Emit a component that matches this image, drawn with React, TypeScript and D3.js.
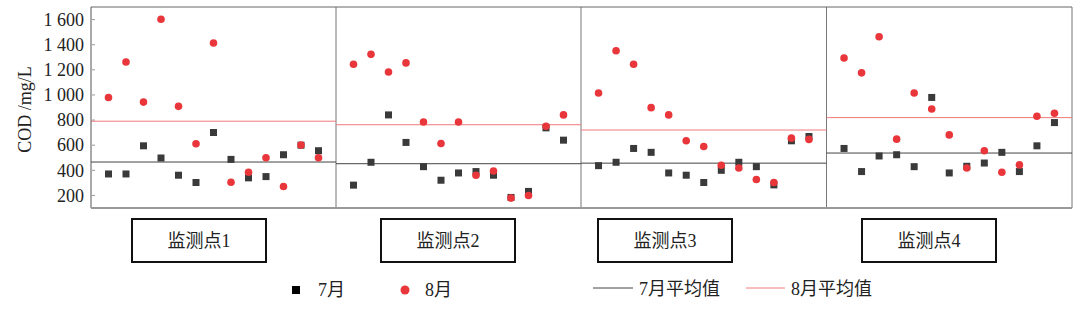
import React from "react";
import * as d3 from "d3";

const sites = ["监测点1", "监测点2", "监测点3", "监测点4"];
const julSite1 = [371, 371, 595, 498, 361, 303, 701, 487, 340, 350, 524, 600, 556];
const augSite1 = [980, 1262, 943, 1603, 909, 611, 1413, 305, 385, 500, 271, 601, 500];
const julSite2 = [282, 464, 841, 622, 429, 321, 379, 390, 361, 184, 232, 738, 640];
const augSite2 = [1244, 1323, 1183, 1255, 785, 614, 785, 361, 395, 179, 200, 751, 841];
const julSite3 = [437, 464, 574, 543, 379, 361, 303, 400, 464, 429, 284, 635, 669];
const augSite3 = [1015, 1352, 1244, 899, 841, 635, 590, 440, 419, 327, 303, 656, 646];
const julSite4 = [574, 390, 514, 524, 429, 980, 379, 432, 458, 543, 390, 595, 780];
const augSite4 = [1294, 1176, 1463, 648, 1015, 888, 682, 419, 556, 385, 443, 830, 854];
const yTicks = [200, 400, 600, 800, 1000, 1200, 1400, 1600];
const yLabel = "COD /mg/L";
const legendLabels = ["7月", "8月", "7月平均值", "8月平均值"];

const julData = [julSite1, julSite2, julSite3, julSite4];
const augData = [augSite1, augSite2, augSite3, augSite4];

const W = 1080;
const H = 310;
const panelEdges = [91, 336, 581, 826.5, 1072];
const plotTop = 7;
const plotBottom = 208;
const boxX = [132, 381, 598, 862];
const boxW = 134;
const boxY = 219;
const boxH = 43;

const BLACK = "#3a3a3a";
const RED = "#e8363b";
const RED_LINE = "#f07a7a";
const FONT = "'Liberation Serif', 'Noto Sans CJK SC', serif";

const fmt = (v: number) => {
  const s = String(v);
  return s.length > 3 ? s.slice(0, s.length - 3) + " " + s.slice(-3) : s;
};

export default function App() {
  const y = d3.scaleLinear().domain([100, 1700]).range([plotBottom, plotTop]);
  const sq = 7;
  return (
    <svg
      width={W}
      height={H}
      style={{ position: "absolute", left: 0, top: 0, background: "#fff" }}
      fontFamily={FONT}
    >
      {/* y label */}
      <text
        transform={`translate(31,${(plotTop + plotBottom) / 2 + 2}) rotate(-90)`}
        textAnchor="middle"
        fontSize={18}
        fill="#222"
      >
        {yLabel}
      </text>
      {/* y ticks */}
      {yTicks.map((t) => (
        <g key={t}>
          <text x={84} y={y(t)} dy="0.35em" textAnchor="end" fontSize={18} fill="#222">
            {fmt(t)}
          </text>
          <line x1={92} x2={95} y1={y(t)} y2={y(t)} stroke="#999" strokeWidth={1} />
        </g>
      ))}
      {sites.map((name, p) => {
        const x0 = panelEdges[p];
        const x1 = panelEdges[p + 1];
        const x = d3.scaleLinear().domain([0, 14]).range([x0, x1]);
        const jul = julData[p];
        const aug = augData[p];
        const mJul = d3.mean(jul) as number;
        const mAug = d3.mean(aug) as number;
        return (
          <g key={name}>
            <line x1={x1} x2={x1} y1={plotTop} y2={plotBottom} stroke="#777" strokeWidth={1} />
            <line x1={x0} x2={x1} y1={y(mJul)} y2={y(mJul)} stroke="#444" strokeWidth={1} />
            <line x1={x0} x2={x1} y1={y(mAug)} y2={y(mAug)} stroke={RED_LINE} strokeWidth={1} />
            {jul.map((v, i) => (
              <rect
                key={"j" + i}
                x={x(i + 1) - sq / 2}
                y={y(v) - sq / 2}
                width={sq}
                height={sq}
                fill={BLACK}
              />
            ))}
            {aug.map((v, i) => (
              <circle key={"a" + i} cx={x(i + 1)} cy={y(v)} r={3.8} fill={RED} />
            ))}
            <rect
              x={boxX[p]}
              y={boxY}
              width={boxW}
              height={boxH}
              fill="none"
              stroke="#111"
              strokeWidth={2}
            />
            <text
              x={boxX[p] + boxW / 2}
              y={boxY + boxH / 2}
              dy="0.35em"
              textAnchor="middle"
              fontSize={18}
              fill="#222"
            >
              {name}
            </text>
          </g>
        );
      })}
      {/* frame */}
      <line x1={91} x2={1072} y1={plotTop} y2={plotTop} stroke="#666" strokeWidth={1} />
      <line x1={91} x2={91} y1={plotTop} y2={plotBottom} stroke="#555" strokeWidth={1} />
      <line x1={91} x2={1072} y1={plotBottom} y2={plotBottom} stroke="#999" strokeWidth={2} />
      {/* legend */}
      <rect x={292} y={286} width={8} height={8} fill="#000" />
      <text x={318} y={290} dy="0.35em" fontSize={18} fill="#222">
        {legendLabels[0]}
      </text>
      <circle cx={405} cy={290} r={4.5} fill={RED} />
      <text x={425} y={290} dy="0.35em" fontSize={18} fill="#222">
        {legendLabels[1]}
      </text>
      <line x1={593} x2={633} y1={288} y2={288} stroke="#444" strokeWidth={1} />
      <text x={639} y={289} dy="0.35em" fontSize={18} fill="#222">
        {legendLabels[2]}
      </text>
      <line x1={746} x2={785} y1={288} y2={288} stroke={RED_LINE} strokeWidth={1} />
      <text x={791} y={289} dy="0.35em" fontSize={18} fill="#222">
        {legendLabels[3]}
      </text>
    </svg>
  );
}
